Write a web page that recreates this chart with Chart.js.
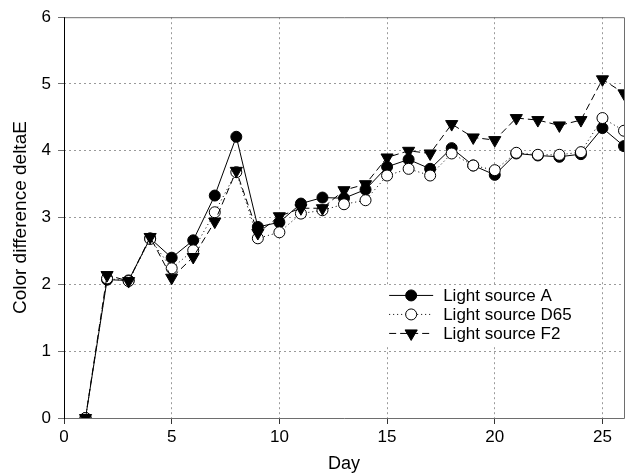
<!DOCTYPE html>
<html>
<head>
<meta charset="utf-8">
<script src="https://cdn.jsdelivr.net/npm/chart.js@4/dist/chart.umd.min.js"></script>
<style>
  html, body { margin: 0; padding: 0; background: #fff; }
  #wrap { width: 636px; height: 475px; position: relative; }
</style>
</head>
<body>
<div id="wrap"><canvas id="chart" width="636" height="475"></canvas></div>
<script>
// Measurement days and colour difference (deltaE) under three illuminants
const days = [1, 2, 3, 4, 5, 6, 7, 8, 9, 10, 11, 12, 13, 14, 15, 16, 17, 18, 19, 20, 21, 22, 23, 24, 25, 26];
const lightA   = [0, 2.07, 2.06, 2.69, 2.40, 2.66, 3.33, 4.21, 2.86, 2.93, 3.21, 3.30, 3.29, 3.42, 3.76, 3.87, 3.73, 4.04, 3.78, 3.64, 3.96, 3.93, 3.91, 3.95, 4.34, 4.07];
const lightD65 = [0, 2.09, 2.05, 2.68, 2.24, 2.51, 3.08, 3.68, 2.69, 2.78, 3.06, 3.11, 3.20, 3.26, 3.63, 3.73, 3.63, 3.96, 3.78, 3.71, 3.97, 3.94, 3.94, 3.98, 4.49, 4.30];
const lightF2  = [0, 2.14, 2.05, 2.71, 2.10, 2.41, 2.94, 3.70, 2.77, 3.02, 3.14, 3.14, 3.41, 3.50, 3.90, 4.00, 3.96, 4.40, 4.20, 4.16, 4.49, 4.46, 4.38, 4.46, 5.07, 4.86];
const seriesNames = ['Light source A', 'Light source D65', 'Light source F2'];
const xTitle = 'Day';
const yTitle = 'Color difference deltaE';

const FONT = '"Liberation Sans", Arial, Helvetica, sans-serif';
const GRID = '#9a9a9a';
const FRAME = '#6e6e6e';

function pts(values) {
  return values.map((v, i) => ({ x: days[i], y: v }));
}

// Draws a marker in the style of the given dataset
function marker(ctx, ds, x, y) {
  ctx.save();
  ctx.setLineDash([]);
  ctx.lineWidth = 1;
  ctx.strokeStyle = ds.pointBorderColor;
  ctx.fillStyle = ds.pointBackgroundColor;
  const r = ds.pointRadius;
  ctx.beginPath();
  if (ds.pointStyle === 'triangle') {
    ctx.moveTo(x - r * 0.87, y - r * 0.5);
    ctx.lineTo(x + r * 0.87, y - r * 0.5);
    ctx.lineTo(x, y + r);
    ctx.closePath();
  } else {
    ctx.arc(x, y, r, 0, Math.PI * 2);
  }
  ctx.fill();
  ctx.stroke();
  ctx.restore();
}

// Axis lines, box frame (top and right edges) and the in-plot legend
const framePlugin = {
  id: 'frameAndLegend',
  afterDatasetsDraw(chart) {
    const { ctx, chartArea: a } = chart;
    ctx.save();
    ctx.lineWidth = 1;
    ctx.setLineDash([]);
    ctx.strokeStyle = FRAME;
    ctx.beginPath();
    ctx.moveTo(a.left, a.top + 0.5);
    ctx.lineTo(a.right + 0.5, a.top + 0.5);
    ctx.lineTo(a.right + 0.5, a.bottom + 0.5);
    ctx.lineTo(a.left, a.bottom + 0.5);
    ctx.stroke();
    ctx.strokeStyle = '#000';
    ctx.beginPath();
    ctx.moveTo(a.left + 0.5, a.top);
    ctx.lineTo(a.left + 0.5, a.bottom + 1);
    ctx.stroke();

    // legend
    const w = a.right - a.left, h = a.bottom - a.top;
    const bx = a.left + w * 0.561, by = a.top + h * 0.668;
    ctx.fillStyle = '#fff';
    ctx.fillRect(bx, by, 196, 62);
    const rowH = 19;
    chart.data.datasets.forEach((ds, i) => {
      const y = by + 10.5 + i * rowH;
      const x0 = bx + 11, x1 = x0 + 44;
      ctx.save();
      ctx.strokeStyle = ds.borderColor;
      ctx.lineWidth = ds.borderWidth;
      ctx.setLineDash(ds.borderDash || []);
      ctx.beginPath();
      ctx.moveTo(x0, y);
      ctx.lineTo(x1, y);
      ctx.stroke();
      ctx.restore();
      marker(ctx, ds, (x0 + x1) / 2, y);
      ctx.fillStyle = '#000';
      ctx.font = '17px ' + FONT;
      ctx.textBaseline = 'middle';
      ctx.textAlign = 'left';
      ctx.fillText(ds.label, x1 + 10, y + 1);
    });
    ctx.restore();
  }
};

const common = {
  borderColor: '#000',
  borderWidth: 1,
  pointBorderColor: '#000',
  pointBorderWidth: 1,
  tension: 0,
  fill: false
};

new Chart(document.getElementById('chart'), {
  type: 'line',
  data: {
    datasets: [
      Object.assign({}, common, {
        label: seriesNames[0], data: pts(lightA),
        pointStyle: 'circle', pointRadius: 5.5, pointBackgroundColor: '#000',
        borderDash: [], order: 3
      }),
      Object.assign({}, common, {
        label: seriesNames[1], data: pts(lightD65),
        pointStyle: 'circle', pointRadius: 5.5, pointBackgroundColor: '#fff',
        borderDash: [1, 3], order: 2
      }),
      Object.assign({}, common, {
        label: seriesNames[2], data: pts(lightF2),
        pointStyle: 'triangle', pointRadius: 7, pointRotation: 180, pointBackgroundColor: '#000',
        borderDash: [7, 4], order: 1
      })
    ]
  },
  options: {
    responsive: false,
    animation: false,
    devicePixelRatio: 1,
    layout: { padding: { top: 17, right: 12, left: 0, bottom: 0 } },
    plugins: {
      legend: { display: false },
      tooltip: { enabled: false }
    },
    scales: {
      x: {
        type: 'linear',
        min: 0, max: 26,
        afterFit(s) { s.height = 57; },
        ticks: {
          stepSize: 5, includeBounds: false, autoSkip: false, maxRotation: 0,
          color: '#000', padding: 3,
          font: { family: FONT, size: 17 }
        },
        grid: {
          color: c => (c.tick && c.tick.value === 0) ? 'rgba(0,0,0,0)' : GRID,
          lineWidth: 1,
          tickLength: 6,
          tickColor: '#333',
          tickBorderDash: [],
          drawTicks: true
        },
        border: { display: false, dash: [2, 3] },
        title: {
          display: true, text: xTitle, color: '#000',
          font: { family: FONT, size: 18 },
          padding: { top: 0, bottom: 0 }
        }
      },
      y: {
        min: 0, max: 6,
        afterFit(s) { s.width = 64; },
        ticks: {
          stepSize: 1, color: '#000', padding: 7,
          font: { family: FONT, size: 17 }
        },
        grid: {
          color: c => (c.tick && (c.tick.value === 0 || c.tick.value === 6)) ? 'rgba(0,0,0,0)' : GRID,
          lineWidth: 1,
          tickLength: 6,
          tickColor: FRAME,
          tickBorderDash: []
        },
        border: { display: false, dash: [2, 3] },
        title: {
          display: true, text: yTitle, color: '#000',
          font: { family: FONT, size: 19 },
          padding: { top: 9, bottom: 2 }
        }
      }
    }
  },
  plugins: [framePlugin]
});
</script>
</body>
</html>
